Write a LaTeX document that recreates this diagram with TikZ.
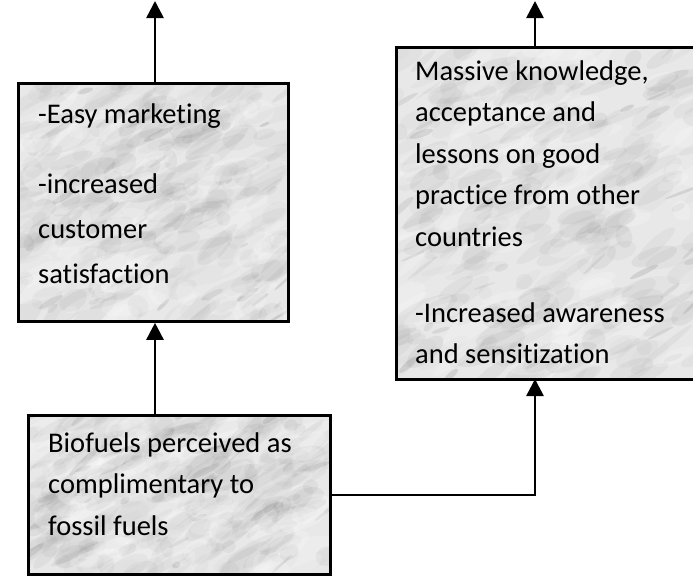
\documentclass[tikz,border=0pt]{standalone}
\usepackage{fontspec}
\setmainfont{Carlito}[Ligatures=NoCommon]
\usetikzlibrary{arrows.meta}

\definecolor{marblebase}{RGB}{232,232,232}
\definecolor{vein}{RGB}{100,100,100}

% Marble-like texture clipped to a rectangle (x1,y1)-(x2,y2)
\newcommand\marblefill[4]{%
  \begin{scope}
    \clip (#1,#2) rectangle (#3,#4);
    \fill[marblebase] (#1,#2) rectangle (#3,#4);
    % soft grey clouds
    \foreach \k in {1,...,260}{
      \pgfmathsetmacro\mx{#1+rnd*(#3-#1)}
      \pgfmathsetmacro\my{#2+rnd*(#4-#2)}
      \pgfmathsetmacro\ma{6+rnd*28}
      \pgfmathsetmacro\mb{3+rnd*9}
      \pgfmathsetmacro\mo{0.02+rnd*0.06}
      \pgfmathsetmacro\mr{10+rnd*35}
      \fill[vein, opacity=\mo, rotate around={\mr:(\mx,\my)}]
        (\mx,\my) ellipse[x radius=\ma, y radius=\mb];
    }
    % thin darker veins
    \foreach \k in {1,...,45}{
      \pgfmathsetmacro\mx{#1+rnd*(#3-#1)}
      \pgfmathsetmacro\my{#2+rnd*(#4-#2)}
      \pgfmathsetmacro\ma{4+rnd*16}
      \pgfmathsetmacro\mb{1+rnd*2.5}
      \pgfmathsetmacro\mo{0.06+rnd*0.12}
      \pgfmathsetmacro\mr{15+rnd*30}
      \fill[vein, opacity=\mo, rotate around={\mr:(\mx,\my)}]
        (\mx,\my) ellipse[x radius=\ma, y radius=\mb];
    }
    % bright patches
    \foreach \k in {1,...,70}{
      \pgfmathsetmacro\mx{#1+rnd*(#3-#1)}
      \pgfmathsetmacro\my{#2+rnd*(#4-#2)}
      \pgfmathsetmacro\ma{8+rnd*30}
      \pgfmathsetmacro\mb{4+rnd*10}
      \pgfmathsetmacro\mr{10+rnd*35}
      \fill[white, opacity=0.18, rotate around={\mr:(\mx,\my)}]
        (\mx,\my) ellipse[x radius=\ma, y radius=\mb];
    }
  \end{scope}}

\tikzset{
  box/.style={draw, line width=2.8pt, inner sep=0pt, anchor=north west},
  label/.style={anchor=base west, inner sep=0pt,
    font=\fontsize{28.5}{32}\selectfont},
  arr/.style={line width=2.6pt, -{Triangle[width=17pt,length=17pt]}}
}

\begin{document}
\begin{tikzpicture}[x=1pt, y=-1pt]
  \clip (0,0) rectangle (693,576);
  \pgfmathsetseed{11}

  % textured backgrounds
  \marblefill{17}{82}{287}{320}
  \marblefill{395}{46}{710}{378}
  \marblefill{27}{414}{329}{573}

  % outlined boxes
  \node[box, minimum width=270pt, minimum height=238pt] (a) at (17,82) {};
  \node[box, minimum width=315pt, minimum height=332pt] (b) at (395,46) {};
  \node[box, minimum width=302pt, minimum height=159pt] (c) at (27,414) {};

  % left box text
  \node[label] (a1) at (38,123) {-Easy marketing};
  \node[label] (a2) at (38,193) {-increased};
  \node[label] (a3) at (38,238) {customer};
  \node[label] (a4) at (38,283) {satisfaction};

  % right box text
  \node[label] (b1) at (415,80) {Massive knowledge,};
  \node[label] (b2) at (415,121.5) {acceptance and};
  \node[label] (b3) at (415,163) {lessons on good};
  \node[label] (b4) at (415,204.5) {practice from other};
  \node[label] (b5) at (415,246) {countries};
  \node[label] (b6) at (415,322) {-Increased awareness};
  \node[label] (b7) at (415,363) {and sensitization};

  % bottom box text
  \node[label] (c1) at (48,452) {Biofuels perceived as};
  \node[label] (c2) at (48,493.5) {complimentary to};
  \node[label] (c3) at (48,535) {fossil fuels};

  % connectors
  \coordinate (aout) at (155,1);
  \coordinate (bout) at (535,1);
  \coordinate (bin) at (535,379);
  \draw[arr] (a.north -| aout) -- (aout);
  \draw[arr] (b.north -| bout) -- (bout);
  \draw[arr] (c.north -| aout) -- (a.south -| aout);
  \draw[arr] (c.east) -| (bin);
\end{tikzpicture}
\end{document}
